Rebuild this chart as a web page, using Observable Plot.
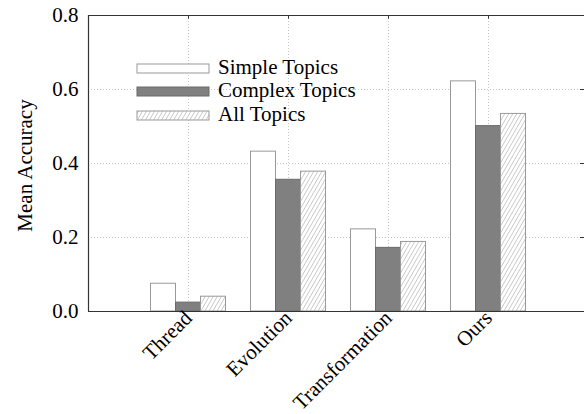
<!DOCTYPE html>
<html>
<head>
<meta charset="utf-8">
<script src="https://cdn.jsdelivr.net/npm/d3@7"></script>
<script src="https://cdn.jsdelivr.net/npm/@observablehq/plot@0.6"></script>
<style>
  html, body { margin: 0; padding: 0; background: #fff; overflow: hidden; }
</style>
</head>
<body>
<div id="chart"></div>
<script>
const categories = ["Thread", "Evolution", "Transformation", "Ours"];
const series = ["Simple Topics", "Complex Topics", "All Topics"];
const simpleTopics = [0.075, 0.432, 0.222, 0.622];
const complexTopics = [0.024, 0.356, 0.172, 0.501];
const allTopics = [0.040, 0.378, 0.188, 0.534];
const yTicks = [0, 0.2, 0.4, 0.6, 0.8];
const xTicks = [1, 2, 3, 4];

const fills = ["#ffffff", "#808080", "url(#hatch)"];
const strokes = ["#999999", "#6a6a6a", "#999999"];
const seriesValues = [simpleTopics, complexTopics, allTopics];

const barW = 0.25;
const rows = [];
categories.forEach((c, i) => {
  seriesValues.forEach((vals, s) => {
    const x1 = (i + 1) - 1.5 * barW + s * barW;
    rows.push({category: c, series: series[s], s, x1, x2: x1 + barW, value: vals[i]});
  });
});

const xMax = 4.96;
const font = "'Liberation Serif', 'Times New Roman', serif";
const fs = 21;

const svg = Plot.plot({
  width: 584,
  height: 414,
  marginLeft: 88,
  marginRight: 0,
  marginTop: 15,
  marginBottom: 103,
  style: {fontFamily: font, fontSize: fs + "px", color: "#000", background: "#fff"},
  x: {domain: [0, xMax]},
  y: {domain: [0, 0.8]},
  marks: [
    Plot.gridY(yTicks, {stroke: "#c4c4c4", strokeOpacity: 1, strokeDasharray: "1,2"}),
    Plot.gridX(xTicks, {stroke: "#c4c4c4", strokeOpacity: 1, strokeDasharray: "1,2"}),
    Plot.rectY(rows, {
      x1: "x1", x2: "x2", y1: 0, y2: "value",
      fill: d => fills[d.s], stroke: d => strokes[d.s], strokeWidth: 1
    }),
    Plot.ruleY([0, 0.8], {stroke: "#333", strokeWidth: 1.2}),
    Plot.ruleX([0], {stroke: "#333", strokeWidth: 1.2}),
    Plot.ruleX(xTicks, {y1: 0.8, y2: 0.79, stroke: "#333"}),
    Plot.ruleY(yTicks.slice(1, 4), {x1: xMax - 0.04, x2: xMax, stroke: "#333"}),
    Plot.axisY({ticks: yTicks, tickSize: 0, tickPadding: 10, tickFormat: d3.format(".1f"), label: null, fontSize: fs, fontFamily: font}),
    Plot.axisX({ticks: xTicks, tickFormat: d => categories[d - 1], tickRotate: -45, tickSize: 0, tickPadding: 3, label: null, fontSize: fs, fontFamily: font}),
    Plot.text(["Mean Accuracy"], {frameAnchor: "left", textAnchor: "middle", rotate: -90, dx: -63, dy: 2, fontSize: fs, fontFamily: font})
  ]
});

const sel = d3.select(svg);
const defs = sel.insert("defs", ":first-child");
const pat = defs.append("pattern")
  .attr("id", "hatch")
  .attr("patternUnits", "userSpaceOnUse")
  .attr("width", 3.5)
  .attr("height", 3.5)
  .attr("patternTransform", "rotate(30)");
pat.append("rect").attr("width", 3.5).attr("height", 3.5).attr("fill", "#fff");
pat.append("line").attr("x1", 0).attr("y1", 0).attr("x2", 0).attr("y2", 3.5)
  .attr("stroke", "#a0a0a0").attr("stroke-width", 1);

// Legend
const legend = sel.append("g").attr("font-family", font).attr("font-size", fs).attr("text-anchor", "start");
const legendY = [64, 87, 111];
series.forEach((name, s) => {
  legend.append("rect")
    .attr("x", 137).attr("y", legendY[s]).attr("width", 72).attr("height", 9)
    .attr("fill", fills[s]).attr("stroke", strokes[s]);
  legend.append("text")
    .attr("x", 218).attr("y", legendY[s] + 9.5)
    .attr("fill", "#000")
    .text(name);
});

document.getElementById("chart").appendChild(svg);
</script>
</body>
</html>
